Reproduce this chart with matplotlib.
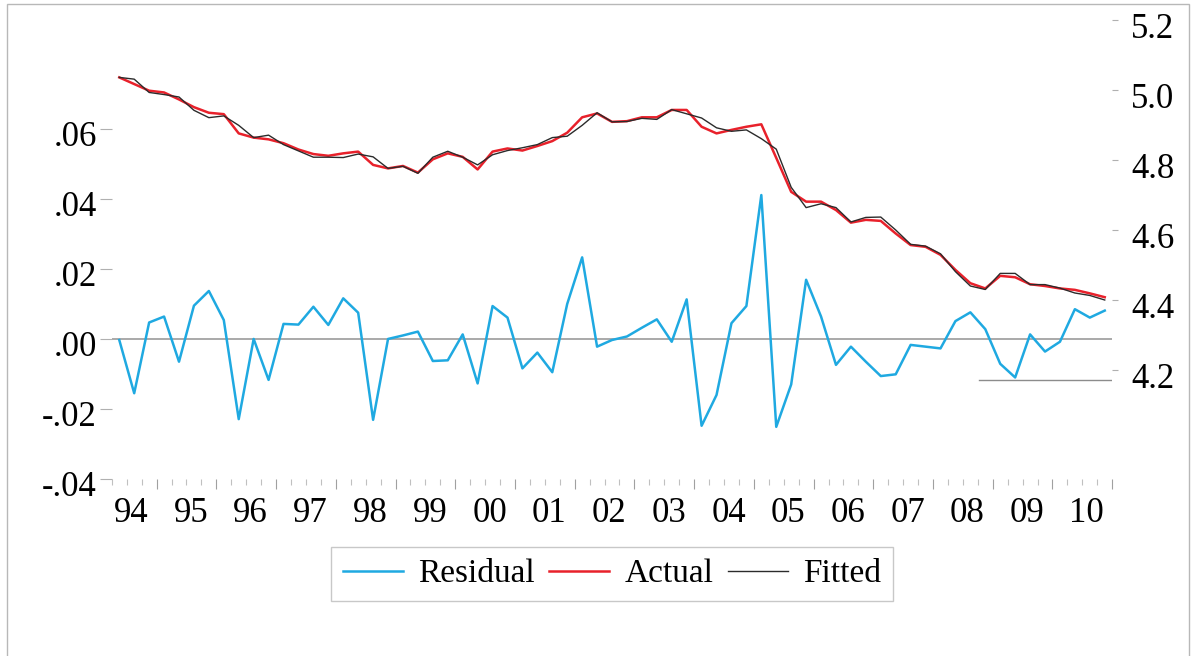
import numpy as np
import matplotlib.pyplot as plt
from matplotlib.patches import Rectangle
from matplotlib.transforms import ScaledTranslation

plt.rcParams['font.family'] = ['Liberation Serif', 'DejaVu Serif']

# quarterly series, 1994Q2 .. 2010Q4
residual = [-0.0003, -0.0155, 0.0047, 0.0064, -0.0065, 0.0095, 0.0137, 0.0054,
            -0.0229, 0.0000, -0.0117, 0.0043, 0.0041, 0.0092, 0.0040, 0.0116,
            0.0075, -0.0231, 0.0000, 0.0010, 0.0021, -0.0063, -0.0061, 0.0013,
            -0.0127, 0.0094, 0.0061, -0.0084, -0.0039, -0.0095, 0.0100, 0.0233,
            -0.0022, -0.0003, 0.0007, 0.0032, 0.0056, -0.0008, 0.0113, -0.0248,
            -0.0160, 0.0045, 0.0094, 0.0411, -0.0251, -0.0130, 0.0169, 0.0064,
            -0.0074, -0.0022, -0.0065, -0.0106, -0.0101, -0.0017, -0.0022, -0.0027,
            0.0051, 0.0076, 0.0028, -0.0071, -0.0110, 0.0013, -0.0036, -0.0008,
            0.0085, 0.0061, 0.0081]

actual = [5.036, 5.017, 4.998, 4.993, 4.973, 4.951, 4.935, 4.931,
          4.876, 4.864, 4.859, 4.848, 4.830, 4.817, 4.812, 4.819,
          4.824, 4.786, 4.776, 4.783, 4.764, 4.802, 4.819, 4.809,
          4.773, 4.824, 4.833, 4.827, 4.840, 4.854, 4.878, 4.922,
          4.933, 4.909, 4.911, 4.922, 4.922, 4.943, 4.943, 4.895,
          4.876, 4.886, 4.895, 4.902, 4.806, 4.709, 4.681, 4.681,
          4.657, 4.621, 4.629, 4.626, 4.590, 4.557, 4.552, 4.529,
          4.486, 4.448, 4.433, 4.469, 4.465, 4.445, 4.440, 4.433,
          4.429, 4.419, 4.408]

fitted = [5.036, 5.031, 4.993, 4.987, 4.980, 4.942, 4.921, 4.926,
          4.899, 4.864, 4.871, 4.844, 4.826, 4.808, 4.808, 4.807,
          4.817, 4.809, 4.776, 4.782, 4.762, 4.808, 4.825, 4.808,
          4.786, 4.815, 4.827, 4.835, 4.844, 4.864, 4.868, 4.899,
          4.935, 4.909, 4.910, 4.919, 4.916, 4.944, 4.932, 4.920,
          4.892, 4.882, 4.886, 4.861, 4.831, 4.722, 4.664, 4.675,
          4.664, 4.623, 4.636, 4.637, 4.600, 4.559, 4.554, 4.532,
          4.481, 4.440, 4.430, 4.476, 4.476, 4.444, 4.444, 4.434,
          4.420, 4.413, 4.400]

years = ['94', '95', '96', '97', '98', '99', '00', '01', '02',
         '03', '04', '05', '06', '07', '08', '09', '10']

left_ticks = [-0.04, -0.02, 0.00, 0.02, 0.04, 0.06]
left_labels = ['-.04', '-.02', '.00', '.02', '.04', '.06']
right_ticks = [4.2, 4.4, 4.6, 4.8, 5.0, 5.2]

fig = plt.figure(figsize=(11.94, 6.56), dpi=100)
ax = fig.add_axes([0.09364, 0.26982, 0.83786, 0.69969])
ax2 = ax.twinx()

x = np.arange(len(actual))

ax.axhline(0, color='#a9a9a9', lw=1.4, zorder=1)
ax.axhline(-0.0117, xmin=0.867, xmax=1.0, color='#8c8c8c', lw=1.0, zorder=1)
l_res, = ax.plot(x, residual, color='#1fa9e1', lw=1.8, zorder=2)
l_act, = ax2.plot(x, actual, color='#e8212b', lw=1.8)
l_fit, = ax2.plot(x, fitted, color='#2b2b2b', lw=1.0)

ax.set_xlim(-0.5, len(actual) - 0.5)
ax.set_ylim(-0.04, 0.0911)
ax2.set_ylim(3.8886, 5.2)

for a in (ax, ax2):
    for s in a.spines.values():
        s.set_visible(False)

ax.set_yticks(left_ticks)
ax.set_yticklabels(left_labels)
ax.tick_params(axis='y', length=8.6, width=0.8, color='#b0b0b0', pad=2.2, labelsize=25)

ax2.set_yticks(right_ticks)
ax2.set_yticklabels(['%.1f' % v for v in right_ticks])
ax2.tick_params(axis='y', length=4.3, width=0.8, color='#b0b0b0', pad=9.4, labelsize=25)

# quarter ticks, longer at year boundaries
n = len(actual)
ax.set_xticks(np.arange(2.5, n, 4))
ax.set_xticklabels([])
ax.set_xticks(np.arange(-0.5, n, 1), minor=True)
ax.tick_params(axis='x', which='major', length=7.2, width=0.8, color='#a0a0a0')
ax.tick_params(axis='x', which='minor', length=4.3, width=0.8, color='#c0c0c0')

sec = ax.secondary_xaxis('bottom')
sec.set_xticks(np.arange(len(years)) * 4 + 0.8)
sec.set_xticklabels(years)
sec.tick_params(length=0, pad=13, labelsize=25)
for s in sec.spines.values():
    s.set_visible(False)

# y labels sit a little below their ticks
shift = ScaledTranslation(0, -5 / 100, fig.dpi_scale_trans)
for lab in ax.get_yticklabels() + ax2.get_yticklabels():
    lab.set_transform(lab.get_transform() + shift)

fig.legend([l_res, l_act, l_fit], ['Residual', 'Actual', 'Fitted'],
           loc='center', bbox_to_anchor=(0.5126, 0.125), ncol=3, fontsize=24,
           frameon=True, fancybox=False, edgecolor='#c8c8c8', framealpha=1,
           handlelength=1.8, handletextpad=0.45, columnspacing=0.45, borderpad=0.35)

fig.patches.append(Rectangle((7 / 1194, -0.05), 1182 / 1194, 1 - 4 / 656 + 0.05,
                             transform=fig.transFigure, fill=False,
                             ec='#b8b8b8', lw=1.0))

fig.savefig('out.png', dpi=100)
